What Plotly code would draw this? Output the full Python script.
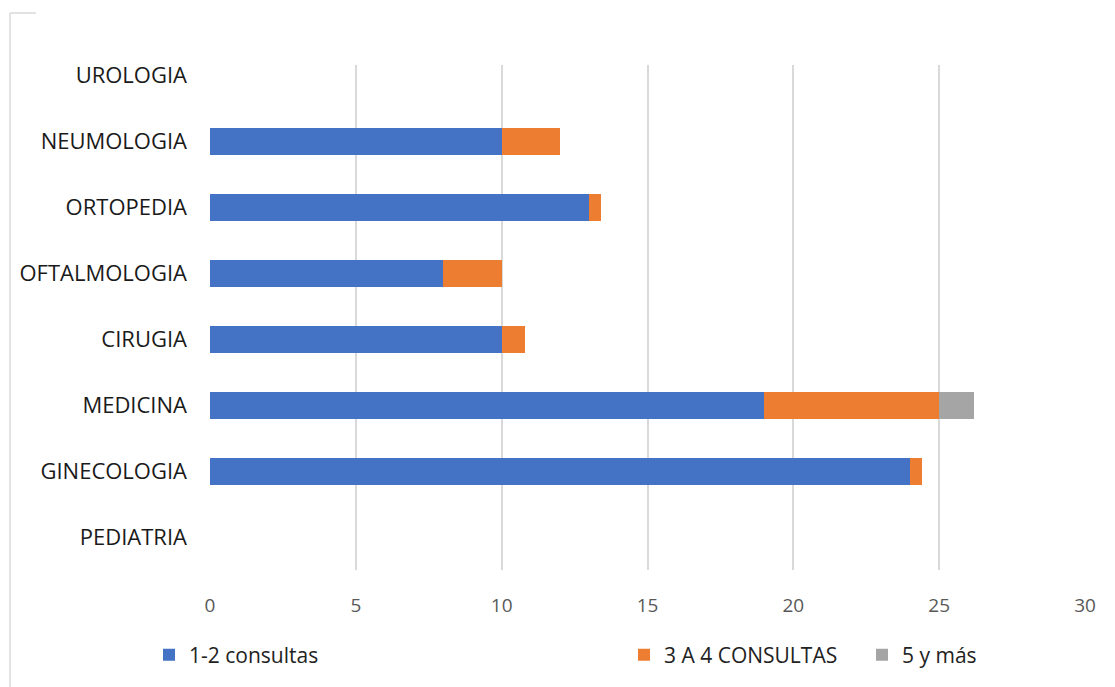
import plotly.graph_objects as go

# Specialties, bottom to top
specialties = ["PEDIATRIA", "GINECOLOGIA", "MEDICINA", "CIRUGIA",
               "OFTALMOLOGIA", "ORTOPEDIA", "NEUMOLOGIA", "UROLOGIA"]

# Number of patients by number of consultations
consultas_1_2 = [0, 24, 19, 10, 8, 13, 10, 0]
consultas_3_4 = [0, 0.4, 6, 0.8, 2, 0.4, 2, 0]
consultas_5_mas = [0, 0, 1.2, 0, 0, 0, 0, 0]

x_ticks = [0, 5, 10, 15, 20, 25, 30]

W, H = 1115, 687
L, R, T, B = 210, 30, 65, 117
pw, ph = W - L - R, H - T - B


def px_x(p):
    return (p - L) / pw


def px_y(p):
    return (H - B - p) / ph


series = [
    ("1-2 consultas", consultas_1_2, "#4472C4", "legend", 149),
    ("3 A 4 CONSULTAS", consultas_3_4, "#ED7D31", "legend2", 624),
    ("5 y más", consultas_5_mas, "#A5A5A5", "legend3", 862),
]

fig = go.Figure()
for name, vals, color, leg, _ in series:
    fig.add_trace(go.Bar(
        y=specialties, x=vals, name=name, orientation="h",
        marker=dict(color=color, line=dict(width=0)),
        legend=leg,
    ))

font_family = "'Open Sans', Lato, sans-serif"
legend_common = dict(
    orientation="h", yanchor="middle", xanchor="left",
    font=dict(family=font_family, size=21, color="#222222"),
    bgcolor="rgba(0,0,0,0)", itemwidth=30,
)
legends = {}
for i, (_, _, _, leg, xpos) in enumerate(series):
    legends[leg] = dict(legend_common, x=px_x(xpos), y=px_y(655))

fig.update_layout(
    width=W, height=H,
    margin=dict(l=L, r=R, t=T, b=B, pad=0),
    paper_bgcolor="white", plot_bgcolor="white",
    barmode="stack", bargap=0.59,
    font=dict(family=font_family),
    showlegend=True,
    **legends,
    xaxis=dict(
        range=[0, 30], tickvals=x_ticks, showgrid=True,
        gridcolor="#d9d9d9", gridwidth=1.5, zeroline=False,
        showline=False, ticks="", ticklabelstandoff=22,
        tickfont=dict(family=font_family, size=19, color="#595959"),
    ),
    yaxis=dict(
        categoryorder="array", categoryarray=specialties,
        range=[-0.5, 7.16], showgrid=False, zeroline=False,
        showline=False, ticks="", ticklabelstandoff=22,
        tickfont=dict(family=font_family, size=22, color="#1a1a1a"),
    ),
    shapes=[
        dict(type="line", xref="paper", yref="paper",
             x0=px_x(10), x1=px_x(10), y0=px_y(13), y1=px_y(H + 2),
             line=dict(color="#d9d9d9", width=1.5)),
        dict(type="line", xref="paper", yref="paper",
             x0=px_x(10), x1=px_x(36), y0=px_y(13), y1=px_y(13),
             line=dict(color="#d9d9d9", width=1.5)),
    ],
)

fig.write_html("out.html")
